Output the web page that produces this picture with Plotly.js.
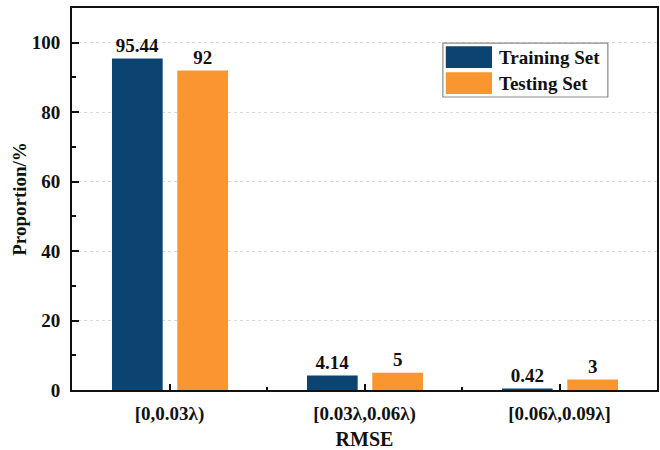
<!DOCTYPE html>
<html>
<head>
<meta charset="utf-8">
<script src="https://cdn.plot.ly/plotly-3.0.1.min.js"></script>
<style>
  html, body { margin: 0; padding: 0; background: #ffffff; }
  #chart { width: 660px; height: 450px; }
</style>
</head>
<body>
<div id="chart"></div>
<script>
// RMSE intervals and the share of samples that fall into each (%)
const categories = ['[0,0.03λ)', '[0.03λ,0.06λ)', '[0.06λ,0.09λ]'];
const trainingValues = [95.44, 4.14, 0.42];
const testingValues = [92, 5, 3];
const seriesNames = ['Training Set', 'Testing Set'];
const seriesColors = ['#0b4470', '#f9962f'];
const yTicks = [0, 20, 40, 60, 80, 100];

const FONT = '"Liberation Serif", "Times New Roman", Times, serif';

function barTrace(name, values, color, offset) {
  return {
    type: 'bar',
    name: name,
    x: categories,
    y: values,
    width: 0.26,
    offset: offset,
    marker: { color: color, line: { width: 0 } },
    text: values.map(v => String(v)),
    textposition: 'outside',
    constraintext: 'none',
    cliponaxis: false,
    textfont: { family: FONT, size: 19, color: '#111111', weight: 'bold' },
    hoverinfo: 'x+y',
    showlegend: false
  };
}

const traces = [
  barTrace(seriesNames[0], trainingValues, seriesColors[0], -0.295),
  barTrace(seriesNames[1], testingValues, seriesColors[1], 0.04),
  // invisible helper on a linear twin axis that carries the minor ticks between groups
  {
    type: 'scatter', x: [-0.5, 2.5], y: [0, 0], xaxis: 'x2', yaxis: 'y',
    mode: 'markers', marker: { opacity: 0 }, hoverinfo: 'skip', showlegend: false
  }
];

// hand-drawn legend box with large colour swatches
const legendX0 = 0.634, legendX1 = 0.916, legendY0 = 0.767, legendY1 = 0.908;
const swatchRows = [[0.900, 0.843], [0.832, 0.775]];
const shapes = [{
  type: 'rect', xref: 'paper', yref: 'paper',
  x0: legendX0, x1: legendX1, y0: legendY0, y1: legendY1,
  line: { color: '#8a8a8a', width: 1.2 }, fillcolor: '#ffffff', layer: 'above'
}];
const annotations = [];
seriesNames.forEach((name, i) => {
  shapes.push({
    type: 'rect', xref: 'paper', yref: 'paper',
    x0: 0.639, x1: 0.718, y0: swatchRows[i][1], y1: swatchRows[i][0],
    line: { width: 0 }, fillcolor: seriesColors[i], layer: 'above'
  });
  annotations.push({
    xref: 'paper', yref: 'paper', x: 0.727, y: (swatchRows[i][0] + swatchRows[i][1]) / 2,
    xanchor: 'left', yanchor: 'middle', showarrow: false, text: name,
    font: { family: FONT, size: 19, color: '#111111', weight: 'bold' }
  });
});

const layout = {
  width: 660,
  height: 450,
  margin: { l: 72, r: 3, t: 8, b: 60 },
  paper_bgcolor: '#ffffff',
  plot_bgcolor: '#ffffff',
  barmode: 'group',
  showlegend: false,
  font: { family: FONT, size: 19, color: '#111111' },
  xaxis: {
    type: 'category',
    range: [-0.5, 2.5],
    showline: true, linecolor: '#111111', linewidth: 2, mirror: true,
    ticks: 'inside', ticklen: 6, tickwidth: 2, tickcolor: '#111111',
    tickfont: { family: FONT, size: 19, color: '#111111', weight: 'bold' },
    ticklabelstandoff: 5,
    showgrid: false, zeroline: false,
    title: { text: 'RMSE', font: { family: FONT, size: 20, color: '#111111', weight: 'bold' }, standoff: 14 }
  },
  xaxis2: {
    overlaying: 'x', anchor: 'y', side: 'bottom',
    range: [-0.5, 2.5],
    tickmode: 'array', tickvals: [0.5, 1.5], showticklabels: false,
    ticks: 'inside', ticklen: 3, tickwidth: 2, tickcolor: '#111111',
    showline: false, showgrid: false, zeroline: false
  },
  yaxis: {
    range: [0, 110],
    tickmode: 'array', tickvals: yTicks,
    showline: true, linecolor: '#111111', linewidth: 2, mirror: true,
    ticks: 'inside', ticklen: 7, tickwidth: 2, tickcolor: '#111111',
    minor: { ticks: 'inside', ticklen: 4, tickwidth: 2, tickcolor: '#111111', dtick: 10, tick0: 0, showgrid: false },
    tickfont: { family: FONT, size: 19, color: '#111111', weight: 'bold' },
    ticklabelstandoff: 6,
    showgrid: true, gridcolor: '#d9d9d9', gridwidth: 1, griddash: 'dot',
    zeroline: false,
    title: { text: 'Proportion/%', font: { family: FONT, size: 19, color: '#111111', weight: 'bold' }, standoff: 0 }
  },
  shapes: shapes,
  annotations: annotations
};

Plotly.newPlot('chart', traces, layout, { displayModeBar: false, staticPlot: true });
</script>
</body>
</html>
